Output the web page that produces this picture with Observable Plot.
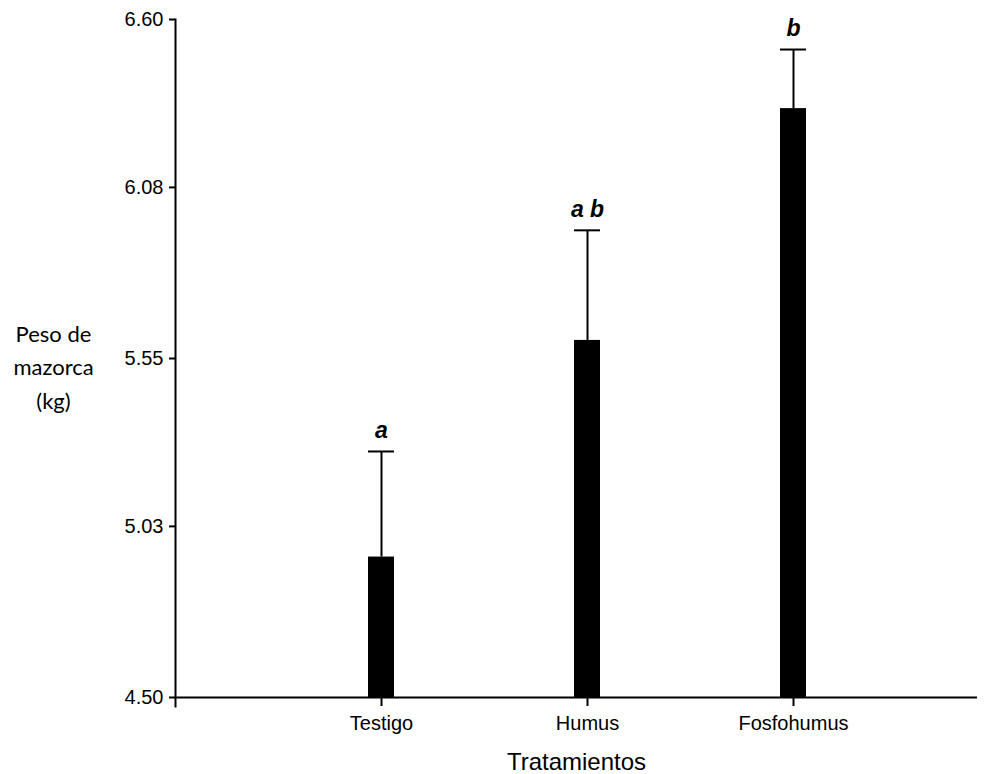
<!DOCTYPE html>
<html>
<head>
<meta charset="utf-8">
<script src="https://cdn.jsdelivr.net/npm/d3@7"></script>
<script src="https://cdn.jsdelivr.net/npm/@observablehq/plot@0.6"></script>
<style>
  html, body { margin: 0; padding: 0; background: #fff; }
</style>
</head>
<body>
<div id="chart"></div>
<script>
const categories = ["Testigo", "Humus", "Fosfohumus"];
const means = [4.935, 5.606, 6.324];
const upper = [5.262, 5.947, 6.507];
const letters = ["a", "a b", "b"];
const yTicks = [4.50, 5.03, 5.55, 6.08, 6.60];
const BASE = 4.50;

const data = categories.map((c, i) => ({cat: c, mean: means[i], hi: upper[i], letter: letters[i]}));

const chart = Plot.plot({
  width: 991,
  height: 774,
  marginLeft: 175,
  marginRight: 14,
  marginTop: 19,
  marginBottom: 77,
  style: {fontFamily: "Liberation Sans, Arial, sans-serif", fontSize: "20px", background: "#fff", color: "#000"},
  x: {type: "band", domain: categories, range: [278, 896], paddingInner: 0.874, paddingOuter: 0.437, align: 0.5},
  y: {domain: [4.5, 6.6]},
  marks: [
    Plot.barY(data, {x: "cat", y1: BASE, y2: "mean", fill: "#000"}),
    Plot.ruleX(data, {x: "cat", y1: "mean", y2: "hi", stroke: "#000", strokeWidth: 2}),
    Plot.tickY(data, {x: "cat", y: "hi", stroke: "#000", strokeWidth: 2}),
    Plot.text(data, {x: "cat", y: "hi", text: "letter", dy: -21, fontSize: 23, fontWeight: "bold", fontStyle: "italic", fill: "#000"}),
    Plot.ruleY([BASE], {stroke: "#000", strokeWidth: 2}),
    Plot.frame({anchor: "left", insetBottom: -9, stroke: "#000", strokeWidth: 2}),
    Plot.axisY({ticks: yTicks, tickFormat: d3.format(".2f"), tickSize: 6, tickPadding: 6, fontSize: 20, label: null, strokeWidth: 2}),
    Plot.axisX({tickSize: 9, tickPadding: 9, fontSize: 20, label: null, strokeWidth: 2}),
    Plot.text(["Tratamientos"], {frameAnchor: "bottom", dy: 72, fontSize: 24, fill: "#000"}),
    Plot.text(["Peso de\nmazorca\n(kg)"], {frameAnchor: "left", textAnchor: "middle", dx: -122, dy: 6, lineHeight: 1.52, fontSize: 22, fontFamily: "Lato, Open Sans, sans-serif", fill: "#000"})
  ]
});
document.getElementById("chart").appendChild(chart);
</script>
</body>
</html>
